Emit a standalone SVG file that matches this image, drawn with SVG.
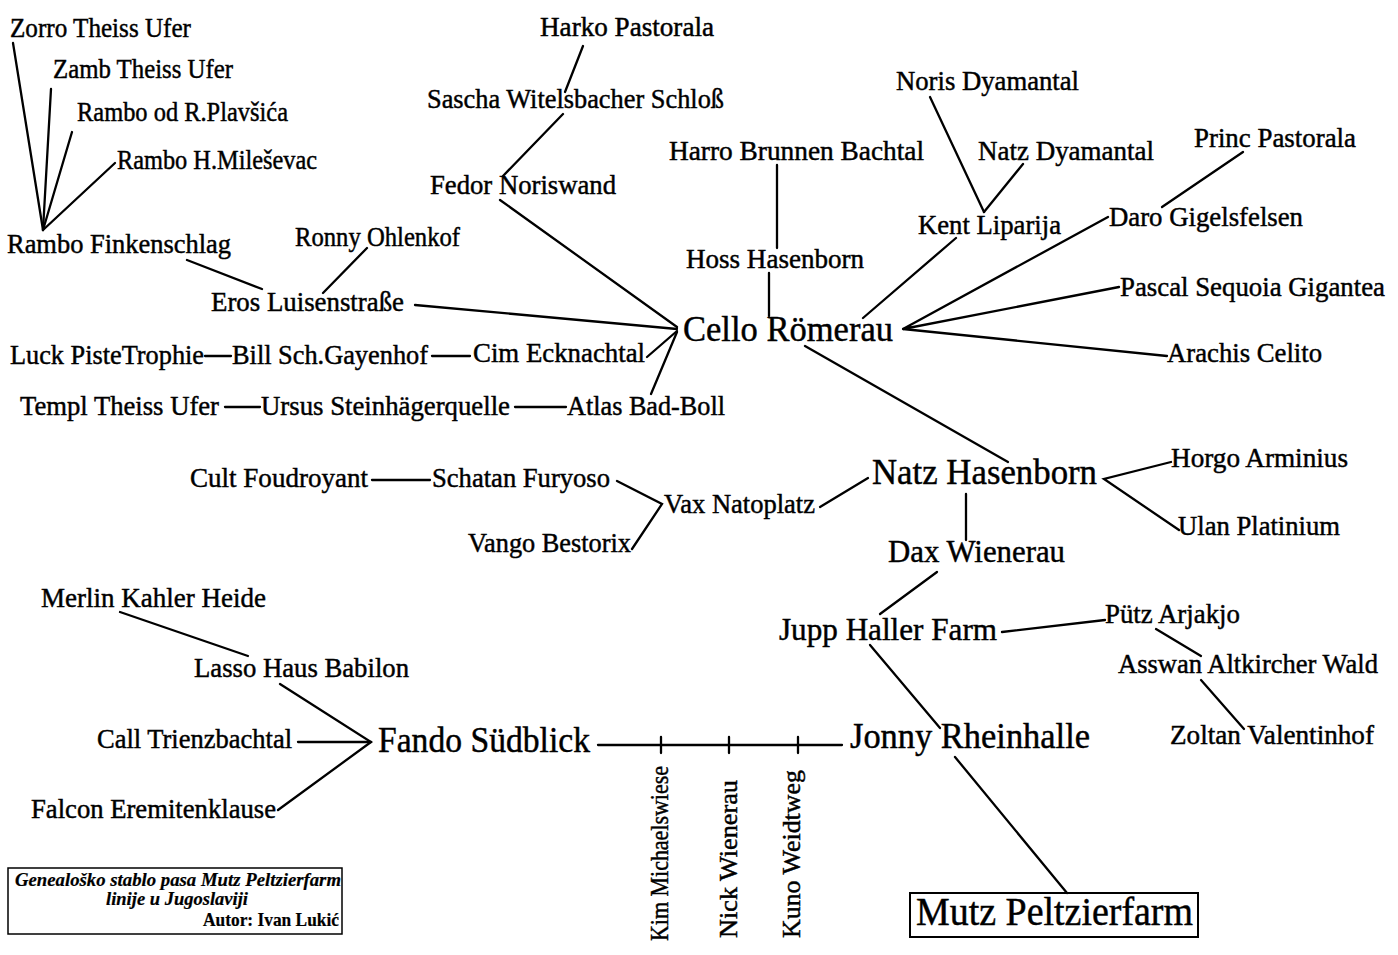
<svg xmlns="http://www.w3.org/2000/svg" width="1398" height="955" viewBox="0 0 1398 955">
<style>
text{font-family:"Liberation Serif","Times New Roman",serif;fill:#000;font-size:27px;stroke:#000;stroke-width:0.45}
.big{font-size:36px}
.mid{font-size:31px}
.top{font-size:40px}
.vt{font-size:25px}
.leg{font-size:18px;font-weight:bold;font-style:italic;stroke-width:0.2}
.leg2{font-size:18px;font-weight:bold;stroke-width:0.2}
#connectors line,#connectors polyline{stroke:#000;stroke-width:2.3;fill:none;stroke-linecap:round}
.box{fill:none;stroke:#000;stroke-width:2}
</style>
<rect width="1398" height="955" fill="#fff"/>
<g id="connectors">
<line x1="13" y1="43" x2="43" y2="230"/>
<line x1="51" y1="89" x2="43" y2="230"/>
<line x1="72" y1="132" x2="43" y2="230"/>
<line x1="115" y1="163" x2="43" y2="230"/>
<line x1="187" y1="260" x2="262" y2="289"/>
<line x1="367" y1="248" x2="323" y2="293"/>
<line x1="415" y1="305" x2="677" y2="329"/>
<line x1="583" y1="46" x2="565" y2="92"/>
<line x1="563" y1="114" x2="503" y2="176"/>
<line x1="500" y1="200" x2="677" y2="327"/>
<line x1="205" y1="356" x2="231" y2="356"/>
<line x1="432" y1="356" x2="470" y2="356"/>
<line x1="647" y1="357" x2="677" y2="331"/>
<line x1="225" y1="407" x2="260" y2="407"/>
<line x1="515" y1="407" x2="566" y2="407"/>
<line x1="651" y1="394" x2="677" y2="332"/>
<line x1="777" y1="165" x2="777" y2="248"/>
<line x1="769" y1="273" x2="769" y2="316"/>
<line x1="930" y1="97" x2="984" y2="212"/>
<line x1="1023" y1="164" x2="984" y2="212"/>
<line x1="956" y1="238" x2="863" y2="318"/>
<line x1="1243" y1="152" x2="1162" y2="207"/>
<polyline points="1108,217 903,329 1119,287"/>
<polyline points="903,329 1167,356"/>
<line x1="805" y1="346" x2="1008" y2="462"/>
<line x1="868" y1="478" x2="820" y2="507"/>
<polyline points="1171,462 1104,479 1179,530"/>
<line x1="966" y1="494" x2="966" y2="540"/>
<line x1="937" y1="572" x2="880" y2="614"/>
<line x1="1002" y1="632" x2="1105" y2="620"/>
<line x1="1156" y1="629" x2="1201" y2="656"/>
<line x1="1201" y1="680" x2="1244" y2="729"/>
<line x1="870" y1="645" x2="940" y2="728"/>
<line x1="955" y1="757" x2="1067" y2="893"/>
<line x1="372" y1="480" x2="430" y2="480"/>
<polyline points="617,481 662,504 632,549"/>
<line x1="120" y1="612" x2="248" y2="656"/>
<polyline points="280,684 371,742 278,810"/>
<line x1="298" y1="742" x2="371" y2="742"/>
<line x1="598" y1="745" x2="842" y2="745"/>
<line x1="661" y1="737" x2="661" y2="753"/>
<line x1="729" y1="737" x2="729" y2="753"/>
<line x1="798" y1="737" x2="798" y2="753"/>
</g>
<g id="n-zorro"><text x="10" y="37" textLength="181" lengthAdjust="spacingAndGlyphs">Zorro Theiss Ufer</text></g>
<g id="n-zamb"><text x="53" y="78" textLength="180" lengthAdjust="spacingAndGlyphs">Zamb Theiss Ufer</text></g>
<g id="n-rambo-od"><text x="77" y="121" textLength="211" lengthAdjust="spacingAndGlyphs">Rambo od R.Plavšića</text></g>
<g id="n-rambo-h"><text x="117" y="169" textLength="200" lengthAdjust="spacingAndGlyphs">Rambo H.Mileševac</text></g>
<g id="n-rambo-f"><text x="7" y="253" textLength="224" lengthAdjust="spacingAndGlyphs">Rambo Finkenschlag</text></g>
<g id="n-ronny"><text x="295" y="246" textLength="165" lengthAdjust="spacingAndGlyphs">Ronny Ohlenkof</text></g>
<g id="n-eros"><text x="211" y="311" textLength="193" lengthAdjust="spacingAndGlyphs">Eros Luisenstraße</text></g>
<g id="n-luck"><text x="10" y="364" textLength="194" lengthAdjust="spacingAndGlyphs">Luck PisteTrophie</text></g>
<g id="n-bill"><text x="232" y="364" textLength="196" lengthAdjust="spacingAndGlyphs">Bill Sch.Gayenhof</text></g>
<g id="n-cim"><text x="473" y="362" textLength="172" lengthAdjust="spacingAndGlyphs">Cim Ecknachtal</text></g>
<g id="n-templ"><text x="20" y="415" textLength="199" lengthAdjust="spacingAndGlyphs">Templ Theiss Ufer</text></g>
<g id="n-ursus"><text x="261" y="415" textLength="249" lengthAdjust="spacingAndGlyphs">Ursus Steinhägerquelle</text></g>
<g id="n-atlas"><text x="567" y="415" textLength="158" lengthAdjust="spacingAndGlyphs">Atlas Bad-Boll</text></g>
<g id="n-harko"><text x="540" y="36" textLength="174" lengthAdjust="spacingAndGlyphs">Harko Pastorala</text></g>
<g id="n-sascha"><text x="427" y="108" textLength="297" lengthAdjust="spacingAndGlyphs">Sascha Witelsbacher Schloß</text></g>
<g id="n-fedor"><text x="430" y="194" textLength="186" lengthAdjust="spacingAndGlyphs">Fedor Noriswand</text></g>
<g id="n-harro"><text x="669" y="160" textLength="255" lengthAdjust="spacingAndGlyphs">Harro Brunnen Bachtal</text></g>
<g id="n-hoss"><text x="686" y="268" textLength="178" lengthAdjust="spacingAndGlyphs">Hoss Hasenborn</text></g>
<g id="n-cello"><text class="big" x="683" y="341" textLength="210" lengthAdjust="spacingAndGlyphs">Cello Römerau</text></g>
<g id="n-noris"><text x="896" y="90" textLength="183" lengthAdjust="spacingAndGlyphs">Noris Dyamantal</text></g>
<g id="n-natz-d"><text x="978" y="160" textLength="176" lengthAdjust="spacingAndGlyphs">Natz Dyamantal</text></g>
<g id="n-kent"><text x="918" y="234" textLength="143" lengthAdjust="spacingAndGlyphs">Kent Liparija</text></g>
<g id="n-princ"><text x="1194" y="147" textLength="162" lengthAdjust="spacingAndGlyphs">Princ Pastorala</text></g>
<g id="n-daro"><text x="1109" y="226" textLength="194" lengthAdjust="spacingAndGlyphs">Daro Gigelsfelsen</text></g>
<g id="n-pascal"><text x="1120" y="296" textLength="265" lengthAdjust="spacingAndGlyphs">Pascal Sequoia Gigantea</text></g>
<g id="n-arachis"><text x="1167" y="362" textLength="155" lengthAdjust="spacingAndGlyphs">Arachis Celito</text></g>
<g id="n-cult"><text x="190" y="487" textLength="178" lengthAdjust="spacingAndGlyphs">Cult Foudroyant</text></g>
<g id="n-schatan"><text x="432" y="487" textLength="178" lengthAdjust="spacingAndGlyphs">Schatan Furyoso</text></g>
<g id="n-vax"><text x="664" y="513" textLength="151" lengthAdjust="spacingAndGlyphs">Vax Natoplatz</text></g>
<g id="n-vango"><text x="468" y="552" textLength="163" lengthAdjust="spacingAndGlyphs">Vango Bestorix</text></g>
<g id="n-natz-h"><text class="big" x="872" y="484" textLength="225" lengthAdjust="spacingAndGlyphs">Natz Hasenborn</text></g>
<g id="n-horgo"><text x="1171" y="467" textLength="177" lengthAdjust="spacingAndGlyphs">Horgo Arminius</text></g>
<g id="n-ulan"><text x="1178" y="535" textLength="162" lengthAdjust="spacingAndGlyphs">Ulan Platinium</text></g>
<g id="n-dax"><text class="mid" x="888" y="562" textLength="177" lengthAdjust="spacingAndGlyphs">Dax Wienerau</text></g>
<g id="n-jupp"><text class="mid" x="779" y="640" textLength="218" lengthAdjust="spacingAndGlyphs">Jupp Haller Farm</text></g>
<g id="n-putz"><text x="1105" y="623" textLength="135" lengthAdjust="spacingAndGlyphs">Pütz Arjakjo</text></g>
<g id="n-asswan"><text x="1118" y="673" textLength="260" lengthAdjust="spacingAndGlyphs">Asswan Altkircher Wald</text></g>
<g id="n-zoltan"><text x="1170" y="744" textLength="204" lengthAdjust="spacingAndGlyphs">Zoltan Valentinhof</text></g>
<g id="n-jonny"><text class="big" x="850" y="748" textLength="240" lengthAdjust="spacingAndGlyphs">Jonny Rheinhalle</text></g>
<g id="n-mutz"><rect class="box" x="910" y="893" width="288" height="44"/><text class="top" x="916" y="925" textLength="277" lengthAdjust="spacingAndGlyphs">Mutz Peltzierfarm</text></g>
<g id="n-merlin"><text x="41" y="607" textLength="225" lengthAdjust="spacingAndGlyphs">Merlin Kahler Heide</text></g>
<g id="n-lasso"><text x="194" y="677" textLength="215" lengthAdjust="spacingAndGlyphs">Lasso Haus Babilon</text></g>
<g id="n-call"><text x="97" y="748" textLength="195" lengthAdjust="spacingAndGlyphs">Call Trienzbachtal</text></g>
<g id="n-fando"><text class="big" x="378" y="752" textLength="212" lengthAdjust="spacingAndGlyphs">Fando Südblick</text></g>
<g id="n-falcon"><text x="31" y="818" textLength="245" lengthAdjust="spacingAndGlyphs">Falcon Eremitenklause</text></g>
<g id="n-kim"><text class="vt" transform="translate(668,941) rotate(-90)" textLength="175" lengthAdjust="spacingAndGlyphs">Kim Michaelswiese</text></g>
<g id="n-nick"><text class="vt" transform="translate(737,938) rotate(-90)" textLength="158" lengthAdjust="spacingAndGlyphs">Nick Wienerau</text></g>
<g id="n-kuno"><text class="vt" transform="translate(800,938) rotate(-90)" textLength="168" lengthAdjust="spacingAndGlyphs">Kuno Weidtweg</text></g>
<g id="legend">
<rect x="8" y="868" width="334" height="66" fill="none" stroke="#000" stroke-width="1.5"/>
<text class="leg" x="15" y="886" textLength="326" lengthAdjust="spacingAndGlyphs">Genealoško stablo pasa Mutz Peltzierfarm</text>
<text class="leg" x="106" y="905" textLength="142" lengthAdjust="spacingAndGlyphs">linije u Jugoslaviji</text>
<text class="leg2" x="203" y="926" textLength="136" lengthAdjust="spacingAndGlyphs">Autor: Ivan Lukić</text>
</g>
</svg>
